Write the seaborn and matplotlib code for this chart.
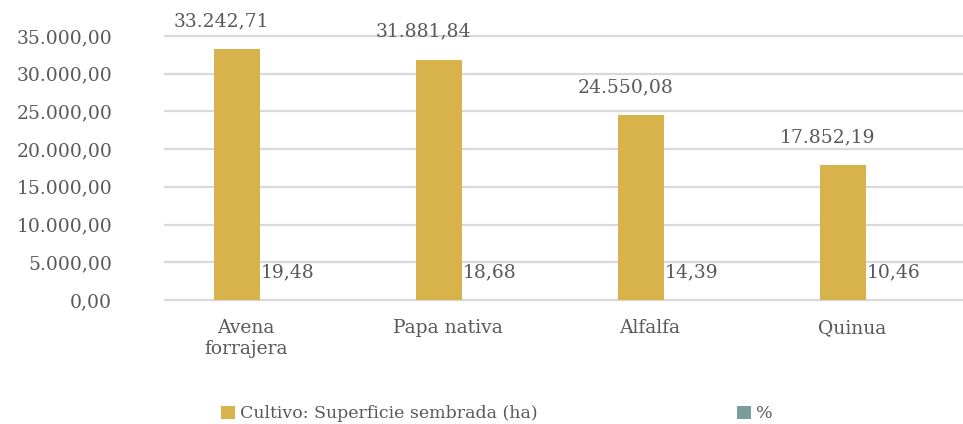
import matplotlib
matplotlib.use("Agg")
import matplotlib.pyplot as plt
import seaborn as sns
import pandas as pd

# datos del grafico
cultivos = ["Avena\nforrajera", "Papa nativa", "Alfalfa", "Quinua"]
superficie = [33242.71, 31881.84, 24550.08, 17852.19]
porcentaje = [19.48, 18.68, 14.39, 10.46]
series = ["Cultivo: Superficie sembrada (ha)", "%"]
colores = ["#D8B24A", "#7A9E9B"]
yticks = [0, 5000, 10000, 15000, 20000, 25000, 30000, 35000]

TXT = "#595959"


def fmt_es(v):
    s = f"{v:,.2f}"
    return s.replace(",", "X").replace(".", ",").replace("X", ".")


df = pd.DataFrame({
    "cultivo": cultivos * 2,
    "serie": [series[0]] * 4 + [series[1]] * 4,
    "valor": superficie + porcentaje,
})

sns.set_style("white")
plt.rcParams["font.family"] = ["DejaVu Serif", "DejaVu Sans"]

fig = plt.figure(figsize=(9.63, 4.24), dpi=100)
ax = fig.add_axes([165 / 963, 1 - 300 / 424, 1 - 165 / 963, (300 - 36) / 424])

sns.barplot(data=df, x="cultivo", y="valor", hue="serie", palette=colores,
            width=0.456, saturation=1, linewidth=0, ax=ax, legend=True)

ax.set_ylim(0, 35000)
ax.set_xlim(-0.47, 3.48)
ax.set_yticks(yticks)
ax.set_yticklabels([fmt_es(t) for t in yticks])
ax.set_xticks([i - 0.07 for i in range(len(cultivos))])
ax.set_xticklabels(cultivos)
ax.yaxis.grid(True, color="#D9D9D9", linewidth=1.6)
for gl in ax.get_ygridlines():
    gl.set_clip_on(False)
ax.set_axisbelow(True)
for s in ax.spines.values():
    s.set_visible(False)
ax.tick_params(axis="y", length=0, pad=38, labelsize=13.5, labelcolor=TXT)
ax.tick_params(axis="x", length=0, pad=14, labelsize=13.5, labelcolor=TXT)
ax.set_xlabel("")
ax.set_ylabel("")

# etiquetas de datos
offsets = [(-11, 20), (3, 19.5)]
for cont, (dx, dy) in zip(ax.containers, offsets):
    for p in cont.patches:
        v = p.get_height()
        ax.annotate(fmt_es(v), (p.get_x() + p.get_width() / 2, v),
                    xytext=(dx, dy), textcoords="offset points",
                    ha="center", va="center", fontsize=13.5, color=TXT,
                    annotation_clip=False)

leg = ax.legend(loc="center", bbox_to_anchor=(497 / 963, 1 - 414 / 424),
                bbox_transform=fig.transFigure, ncol=2, frameon=False,
                fontsize=12.5, handlelength=0.8, handleheight=0.8,
                handletextpad=0.3, columnspacing=11.5)
for t in leg.get_texts():
    t.set_color(TXT)

fig.savefig("out.png", dpi=100)
